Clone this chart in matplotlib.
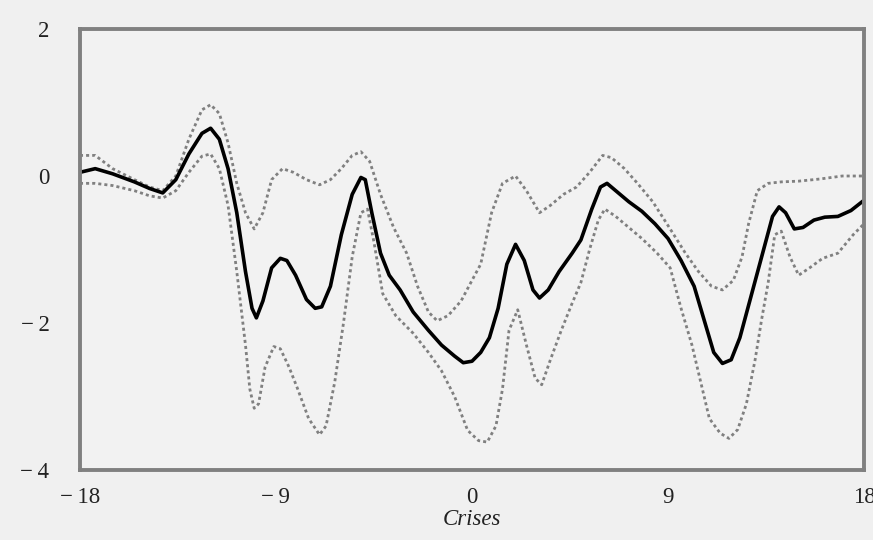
import numpy as np
import matplotlib.pyplot as plt

# mean response around crises
t_mean = [-18, -17.3, -16.5, -15.5, -14.8, -14.2, -13.6, -13, -12.4, -12.0, -11.6, -11.2,
          -10.8, -10.4, -10.1, -9.9, -9.6, -9.2, -8.8, -8.5, -8.1, -7.6, -7.2, -6.9, -6.5,
          -6.0, -5.5, -5.1, -4.9, -4.6, -4.2, -3.8, -3.3, -2.7, -2.0, -1.4, -0.8, -0.4, 0.0,
          0.4, 0.8, 1.2, 1.6, 2.0, 2.4, 2.8, 3.1, 3.5, 4.0, 4.6, 5.0, 5.5, 5.9, 6.2, 6.6,
          7.2, 7.8, 8.4, 9.0, 9.6, 10.2, 10.7, 11.1, 11.5, 11.9, 12.3, 12.8, 13.3, 13.8,
          14.1, 14.4, 14.8, 15.2, 15.7, 16.2, 16.8, 17.4, 18]
mean = [0.05, 0.1, 0.03, -0.08, -0.17, -0.23, -0.05, 0.3, 0.58, 0.65, 0.5, 0.1,
        -0.5, -1.3, -1.8, -1.93, -1.7, -1.25, -1.12, -1.15, -1.35, -1.68, -1.8, -1.78, -1.5,
        -0.8, -0.25, -0.02, -0.05, -0.5, -1.05, -1.35, -1.55, -1.85, -2.1, -2.3, -2.45, -2.54, -2.52,
        -2.4, -2.2, -1.8, -1.2, -0.93, -1.15, -1.55, -1.66, -1.55, -1.3, -1.05, -0.87, -0.45, -0.15, -0.1, -0.2,
        -0.35, -0.48, -0.65, -0.85, -1.15, -1.5, -2.0, -2.4, -2.55, -2.5, -2.2, -1.65, -1.1, -0.55,
        -0.42, -0.5, -0.72, -0.7, -0.6, -0.56, -0.55, -0.47, -0.33]

# upper band
t_up = [-18, -17.3, -16.5, -15.5, -14.8, -14.2, -13.6, -13, -12.4, -12.0, -11.6, -11.2, -10.8,
        -10.4, -10.0, -9.6, -9.2, -8.7, -8.2, -7.6, -7.0, -6.5, -6.0, -5.5, -5.1, -4.7, -4.2,
        -3.6, -3.0, -2.5, -2.0, -1.6, -1.1, -0.5, 0.0, 0.4, 0.9, 1.4, 2.0, 2.5, 3.1, 3.6, 4.2,
        4.8, 5.4, 6.0, 6.4, 7.0, 7.6, 8.3, 9.1, 9.8, 10.4, 11.0, 11.5, 12.0, 12.4, 12.7, 13.1,
        13.6, 14.2, 15.0, 16.0, 17.0, 18.0]
upper = [0.28, 0.28, 0.1, -0.05, -0.15, -0.2, 0.0, 0.5, 0.9, 0.97, 0.85, 0.45, -0.1,
         -0.5, -0.72, -0.5, -0.05, 0.1, 0.05, -0.05, -0.12, -0.05, 0.1, 0.28, 0.33, 0.2, -0.25,
         -0.7, -1.05, -1.5, -1.85, -1.97, -1.9, -1.7, -1.42, -1.2, -0.5, -0.1, 0.0, -0.2, -0.5, -0.4, -0.25,
         -0.15, 0.05, 0.28, 0.25, 0.1, -0.1, -0.35, -0.72, -1.05, -1.3, -1.5, -1.55, -1.42, -1.1, -0.65, -0.2,
         -0.1, -0.08, -0.07, -0.04, 0.0, 0.0]

# lower band
t_low = [-18, -17.3, -16.5, -15.5, -14.8, -14.2, -13.6, -13, -12.4, -12.0, -11.6, -11.2, -10.8,
         -10.4, -10.2, -10.0, -9.8, -9.5, -9.1, -8.8, -8.4, -8.0, -7.5, -7.0, -6.7, -6.3, -5.9,
         -5.5, -5.1, -4.8, -4.5, -4.1, -3.5, -2.7, -2.0, -1.4, -0.8, -0.2, 0.3, 0.7, 1.1, 1.4,
         1.7, 2.1, 2.5, 2.9, 3.2, 3.6, 4.1, 4.6, 5.0, 5.4, 5.8, 6.1, 6.6, 7.2, 7.8, 8.5, 9.1,
         9.6, 10.1, 10.5, 10.9, 11.4, 11.8, 12.2, 12.6, 13.0, 13.3, 13.6, 13.9, 14.2, 14.6, 15.0,
         15.5, 16.1, 16.8, 17.5, 18]
lower = [-0.1, -0.1, -0.13, -0.2, -0.27, -0.3, -0.2, 0.05, 0.27, 0.3, 0.1, -0.4, -1.3,
         -2.3, -2.9, -3.16, -3.1, -2.6, -2.32, -2.35, -2.6, -2.9, -3.3, -3.52, -3.4, -2.8, -2.0,
         -1.1, -0.5, -0.45, -0.9, -1.6, -1.9, -2.14, -2.4, -2.65, -3.0, -3.46, -3.6, -3.62, -3.4, -2.9,
         -2.1, -1.82, -2.3, -2.75, -2.84, -2.5, -2.1, -1.73, -1.45, -1.0, -0.6, -0.45, -0.55, -0.7, -0.85, -1.05, -1.25,
         -1.8, -2.3, -2.8, -3.3, -3.5, -3.57, -3.45, -3.1, -2.5, -1.95, -1.45, -0.8, -0.75, -1.1, -1.35,
         -1.25, -1.12, -1.05, -0.8, -0.65]

xticks = [-18, -9, 0, 9, 18]
xlabels = ['\u2212\u200918', '\u2212\u20099', '0', '9', '18']
yticks = [-4, -2, 0, 2]
ylabels = ['\u2212\u20094', '\u2212\u20092', '0', '2']

fig = plt.figure(figsize=(8.73, 5.40), dpi=100, facecolor='#f0f0f0')
ax = fig.add_axes([0.0916, 0.1296, 0.8981, 0.8167], facecolor='#f2f2f2')

ax.plot(t_up, upper, color='#808080', lw=2.0, ls=(0, (1.1, 1.1)))
ax.plot(t_low, lower, color='#808080', lw=2.0, ls=(0, (1.1, 1.1)))
ax.plot(t_mean, mean, color='black', lw=2.6)

ax.set_xlim(-18, 18)
ax.set_ylim(-4, 2)
ax.set_xticks(xticks)
ax.set_xticklabels(xlabels)
ax.set_yticks(yticks)
ax.set_yticklabels(ylabels)
ax.tick_params(length=0, labelsize=16.5, labelcolor='#222222')
ax.tick_params(axis='x', pad=12)
ax.tick_params(axis='y', pad=22)
for lab in ax.get_xticklabels() + ax.get_yticklabels():
    lab.set_family(['Liberation Serif', 'DejaVu Serif'])
for s in ax.spines.values():
    s.set_color('#808080')
    s.set_linewidth(2.8)
ax.set_xlabel('Crises', fontsize=16.5, family='Liberation Serif', style='italic',
              color='#222222', labelpad=1)

fig.savefig('out.png', dpi=100, facecolor=fig.get_facecolor())
